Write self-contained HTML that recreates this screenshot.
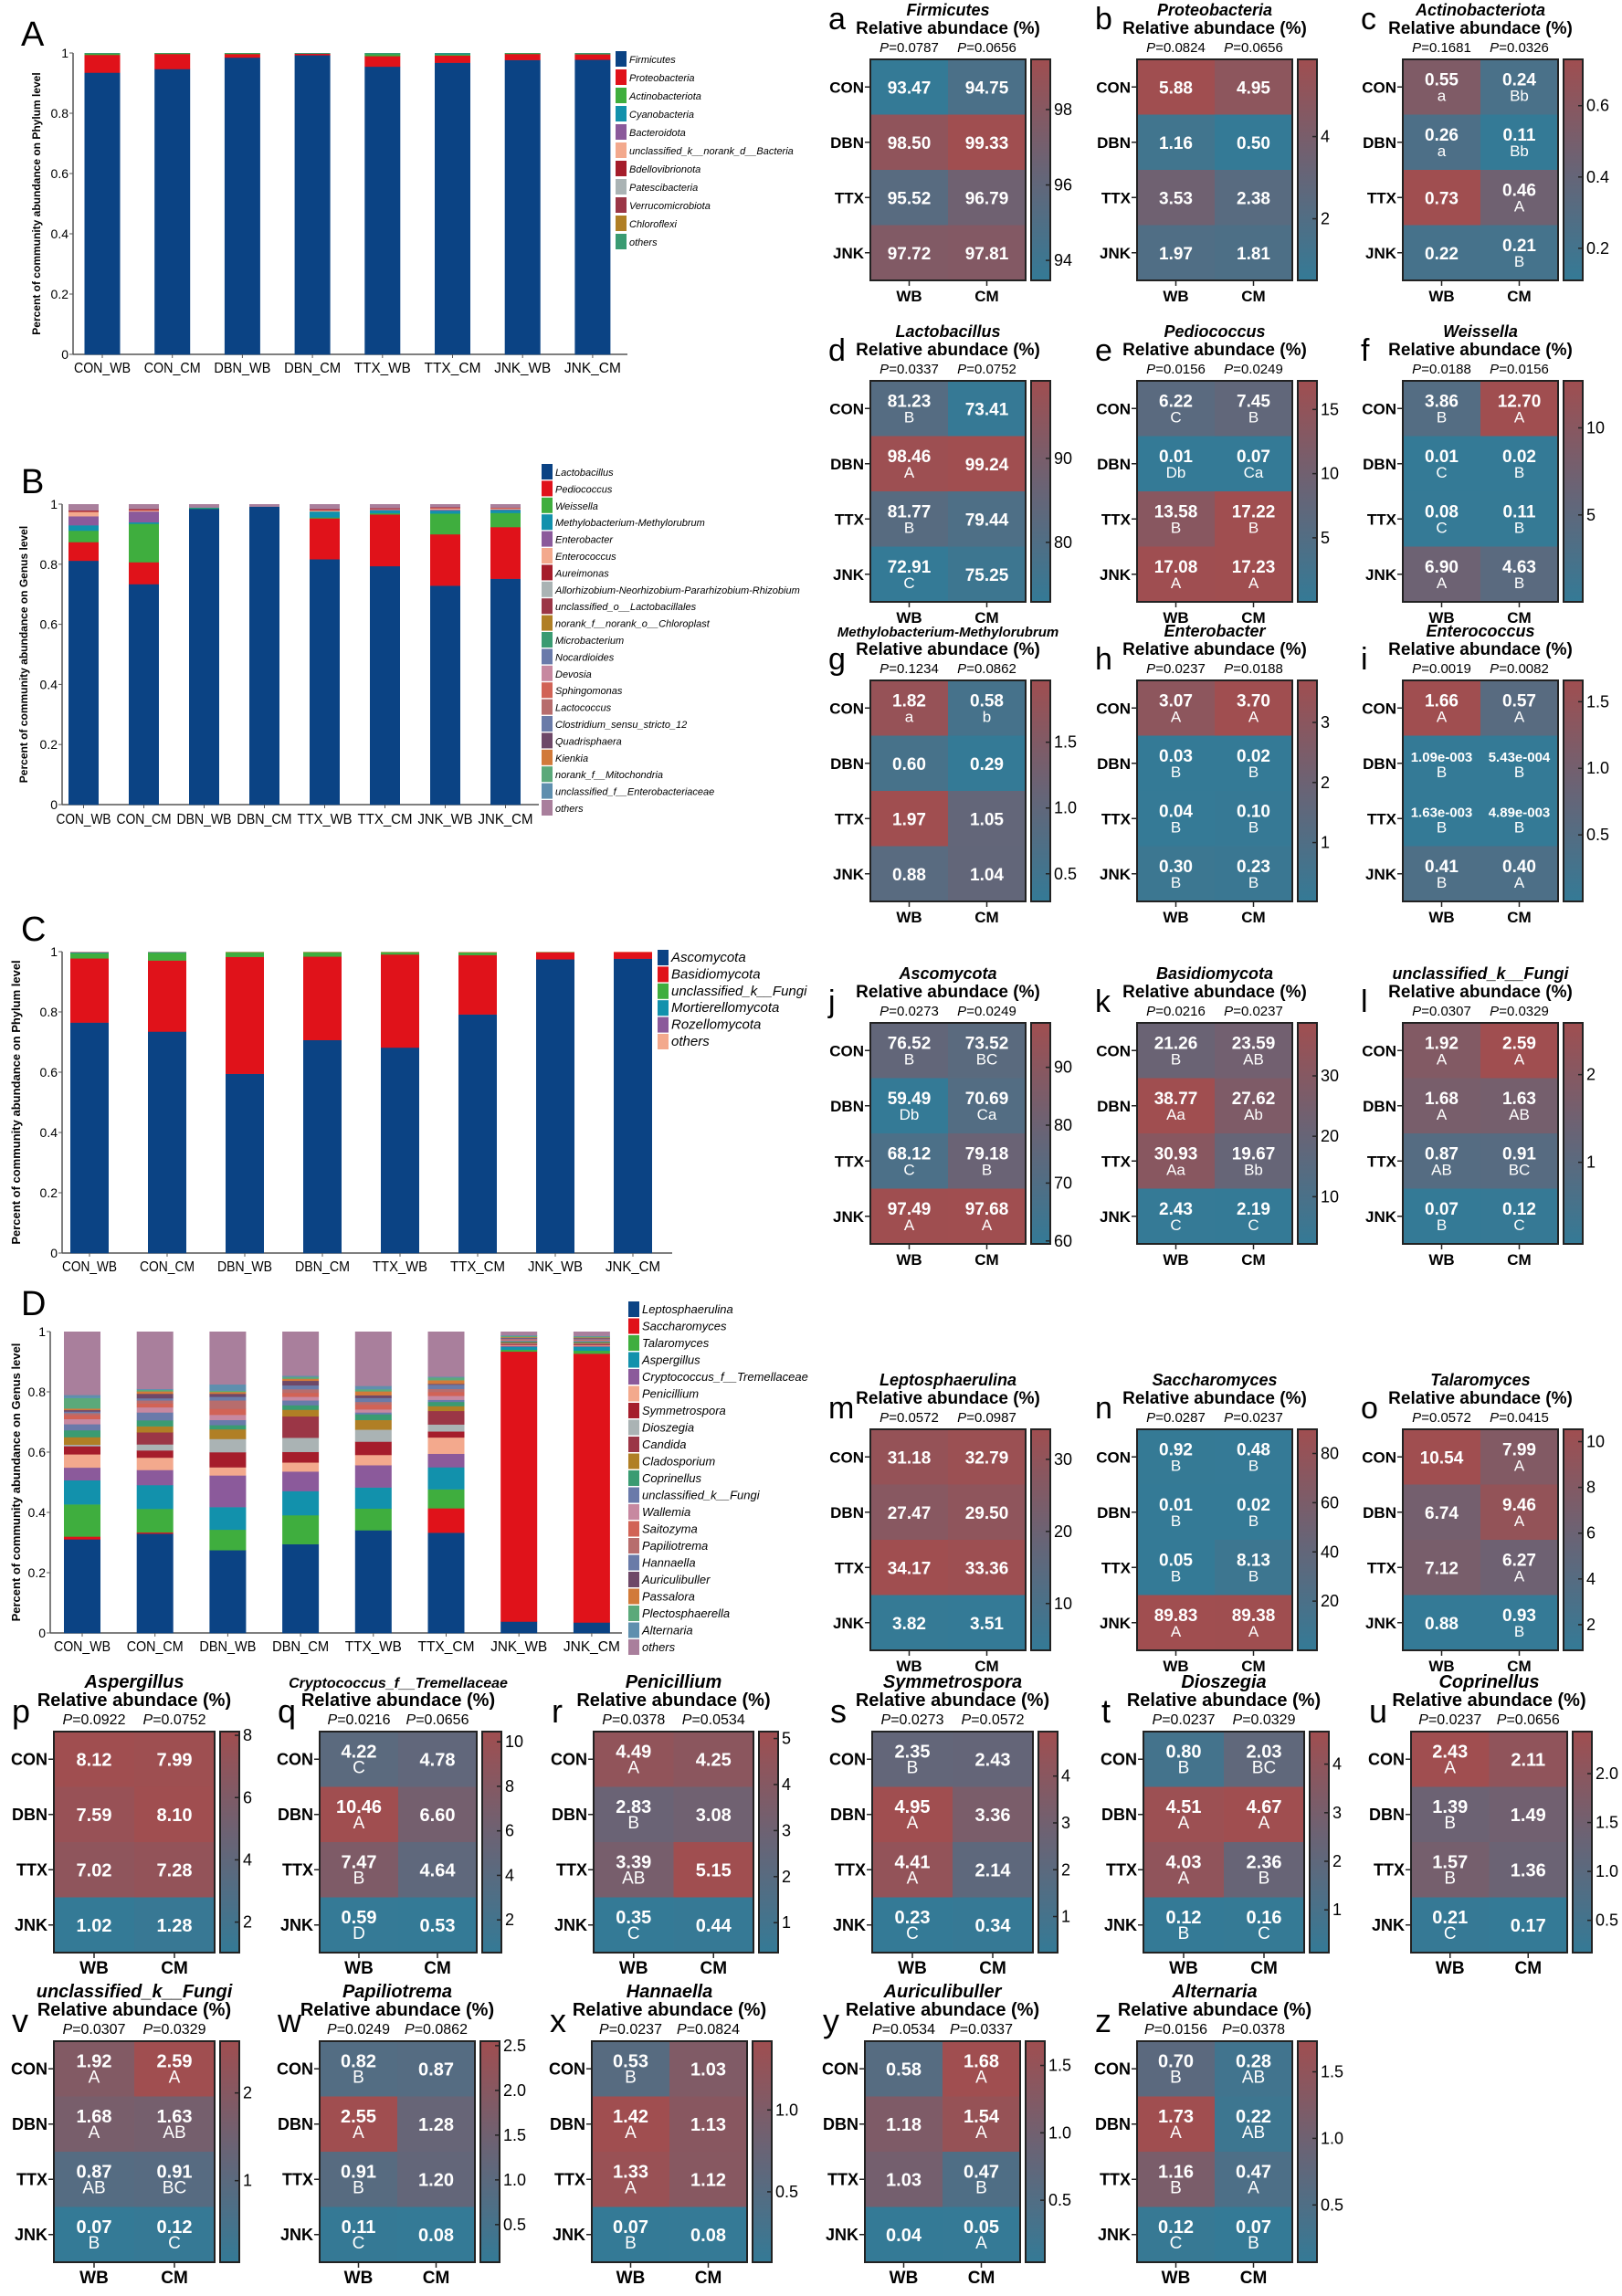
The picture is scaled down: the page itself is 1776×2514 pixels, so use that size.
<!DOCTYPE html>
<html><head><meta charset="utf-8">
<style>
html,body{margin:0;padding:0;background:#fff;}
svg{display:block;}
text{font-family:"Liberation Sans",Arial,sans-serif;}
.n{font-family:"Liberation Sans Narrow","Liberation Sans",Arial,sans-serif;}
</style></head>
<body>
<svg id="s" xmlns="http://www.w3.org/2000/svg" width="1776" height="2514" viewBox="0 0 1776 2514"></svg>
<script>
var out=[];
function T(x,y,s,str,o){o=o||{};out.push('<text x="'+x+'" y="'+y+'" font-size="'+s+'"'+(o.a?' text-anchor="'+o.a+'"':'')+(o.w?' font-weight="bold"':'')+(o.i?' font-style="italic"':'')+(o.f?' fill="'+o.f+'"':'')+(o.c?' class="'+o.c+'"':'')+(o.tl?' textLength="'+o.tl+'" lengthAdjust="spacingAndGlyphs"':'')+(o.t?' transform="'+o.t+'"':'')+'>'+str+'</text>');}
function R(x,y,w,h,f,st){out.push('<rect x="'+x+'" y="'+y+'" width="'+w+'" height="'+h+'" fill="'+f+'"'+(st?' stroke="'+st+'" stroke-width="2"':'')+'/>');}
function L(x1,y1,x2,y2,c,w){out.push('<line x1="'+x1+'" y1="'+y1+'" x2="'+x2+'" y2="'+y2+'" stroke="'+(c||'#222')+'" stroke-width="'+(w||1.5)+'"/>');}
var B=[52,122,150],M=[104,100,118],RD=[160,78,80];
function col(t){t=Math.max(0,Math.min(1,t));var a,b,u;if(t<.5){a=B;b=M;u=t*2}else{a=M;b=RD;u=(t-.5)*2}
return 'rgb('+a.map(function(v,i){return Math.round(v+(b[i]-v)*u)}).join(',')+')';}
out.push('<defs><linearGradient id="g" x1="0" y1="1" x2="0" y2="0"><stop offset="0" stop-color="rgb(52,122,150)"/><stop offset="0.5" stop-color="rgb(104,100,118)"/><stop offset="1" stop-color="rgb(160,78,80)"/></linearGradient></defs>');

function hm(p){
 var x=p.x,y=p.y,w=p.w||170,h=p.h||242,cw=w/2,ch=h/4,vals=p.v,lt=p.l||[['',''],['',''],['',''],['','']];
 var fl=[].concat.apply([],vals),mn=Math.min.apply(0,fl),mx=Math.max.apply(0,fl);
 var nar=p.nar,cls=nar?'n':'';
 var cx=x+w/2;
 T(x-46,y-(p.ly||22),nar?36:34,p.letter,{c:cls});
 T(cx,y-48,p.ts||18,p.title,{a:'middle',w:1,i:1,c:cls});
 T(cx,y-28,nar?20:19,'Relative abundace (%)',{a:'middle',w:1,c:cls});
 T(x+cw/2,y-8,nar?16:15,'<tspan font-style="italic">P</tspan>='+p.p[0],{a:'middle',c:cls});
 T(x+cw*1.5,y-8,nar?16:15,'<tspan font-style="italic">P</tspan>='+p.p[1],{a:'middle',c:cls});
 var rows=['CON','DBN','TTX','JNK'];
 for(var r=0;r<4;r++){for(var c=0;c<2;c++){var v=vals[r][c];R(x+c*cw,y+r*ch,cw+0.5,ch+0.5,col((v-mn)/(mx-mn)));
  var s=p.str&&p.str[r][c]?p.str[r][c]:v.toFixed(2);var has=lt[r][c]!=='';var vy=y+r*ch+ch/2+(has?-2:7);
  T(x+c*cw+cw/2,vy,s.length>5?15:(nar?20:19),s,{a:'middle',w:1,f:'#fff',c:cls});
  if(has)T(x+c*cw+cw/2,vy+17,nar?19:17,lt[r][c],{a:'middle',f:'#fff',c:cls});}
  T(x-7,y+r*ch+ch/2+6,nar?18:17,rows[r],{a:'end',w:1,c:cls});L(x-6,y+r*ch+ch/2,x,y+r*ch+ch/2);}
 out.push('<rect x="'+x+'" y="'+y+'" width="'+w+'" height="'+h+'" fill="none" stroke="#222" stroke-width="2"/>');
 L(x+cw/2,y+h,x+cw/2,y+h+6);L(x+cw*1.5,y+h,x+cw*1.5,y+h+6);
 T(x+cw/2,y+h+23,nar?19:17,'WB',{a:'middle',w:1,c:cls});T(x+cw*1.5,y+h+23,nar?19:17,'CM',{a:'middle',w:1,c:cls});
 var bx=x+w+6,bw=21;
 out.push('<rect x="'+bx+'" y="'+y+'" width="'+bw+'" height="'+h+'" fill="url(#g)" stroke="#222" stroke-width="2"/>');
 p.t.forEach(function(tv){var ty=y+h-(tv-mn)/(mx-mn)*h;L(bx+bw-5,ty,bx+bw,ty);T(bx+bw+4,ty+6,18,String(tv),{c:cls});});
}
var C1=953,C2=1245,C3=1536;
var R1=65,R2=417,R3=745,R4=1120,R5=1565;
hm({x:C1,y:R1,letter:'a',ly:33,title:'Firmicutes',p:['0.0787','0.0656'],v:[[93.47,94.75],[98.50,99.33],[95.52,96.79],[97.72,97.81]],t:[94,96,98]});
hm({x:C2,y:R1,letter:'b',ly:33,title:'Proteobacteria',p:['0.0824','0.0656'],v:[[5.88,4.95],[1.16,0.50],[3.53,2.38],[1.97,1.81]],t:[2,4]});
hm({x:C3,y:R1,letter:'c',ly:33,title:'Actinobacteriota',p:['0.1681','0.0326'],v:[[.55,.24],[.26,.11],[.73,.46],[.22,.21]],l:[['a','Bb'],['a','Bb'],['','A'],['','B']],t:[0.2,0.4,0.6]});
hm({x:C1,y:R2,letter:'d',title:'Lactobacillus',p:['0.0337','0.0752'],v:[[81.23,73.41],[98.46,99.24],[81.77,79.44],[72.91,75.25]],l:[['B',''],['A',''],['B',''],['C','']],t:[80,90]});
hm({x:C2,y:R2,letter:'e',title:'Pediococcus',p:['0.0156','0.0249'],v:[[6.22,7.45],[0.01,0.07],[13.58,17.22],[17.08,17.23]],l:[['C','B'],['Db','Ca'],['B','B'],['A','A']],t:[5,10,15]});
hm({x:C3,y:R2,letter:'f',title:'Weissella',p:['0.0188','0.0156'],v:[[3.86,12.70],[.01,.02],[.08,.11],[6.90,4.63]],l:[['B','A'],['C','B'],['C','B'],['A','B']],t:[5,10]});
hm({x:C1,y:R3,letter:'g',ly:12,title:'Methylobacterium-Methylorubrum',ts:15,p:['0.1234','0.0862'],v:[[1.82,.58],[.60,.29],[1.97,1.05],[.88,1.04]],l:[['a','b'],['',''],['',''],['','']],t:[0.5,'1.0',1.5]});
hm({x:C2,y:R3,letter:'h',ly:12,title:'Enterobacter',p:['0.0237','0.0188'],v:[[3.07,3.70],[.03,.02],[.04,.10],[.30,.23]],l:[['A','A'],['B','B'],['B','B'],['B','B']],t:[1,2,3]});
hm({x:C3,y:R3,letter:'i',ly:12,title:'Enterococcus',p:['0.0019','0.0082'],v:[[1.66,.57],[.00109,.000543],[.00163,.00489],[.41,.40]],str:[[0,0],['1.09e-003','5.43e-004'],['1.63e-003','4.89e-003'],[0,0]],l:[['A','A'],['B','B'],['B','B'],['B','A']],t:[0.5,'1.0',1.5]});
hm({x:C1,y:R4,letter:'j',ly:12,title:'Ascomycota',p:['0.0273','0.0249'],v:[[76.52,73.52],[59.49,70.69],[68.12,79.18],[97.49,97.68]],l:[['B','BC'],['Db','Ca'],['C','B'],['A','A']],t:[60,70,80,90]});
hm({x:C2,y:R4,letter:'k',ly:12,title:'Basidiomycota',p:['0.0216','0.0237'],v:[[21.26,23.59],[38.77,27.62],[30.93,19.67],[2.43,2.19]],l:[['B','AB'],['Aa','Ab'],['Aa','Bb'],['C','C']],t:[10,20,30]});
hm({x:C3,y:R4,letter:'l',ly:12,title:'unclassified_k__Fungi',p:['0.0307','0.0329'],v:[[1.92,2.59],[1.68,1.63],[.87,.91],[.07,.12]],l:[['A','A'],['A','AB'],['AB','BC'],['B','C']],t:[1,2]});
hm({x:C1,y:R5,letter:'m',ly:12,title:'Leptosphaerulina',p:['0.0572','0.0987'],v:[[31.18,32.79],[27.47,29.50],[34.17,33.36],[3.82,3.51]],t:[10,20,30]});
hm({x:C2,y:R5,letter:'n',ly:12,title:'Saccharomyces',p:['0.0287','0.0237'],v:[[.92,.48],[.01,.02],[.05,8.13],[89.83,89.38]],l:[['B','B'],['B','B'],['B','B'],['A','A']],t:[20,40,60,80]});
hm({x:C3,y:R5,letter:'o',ly:12,title:'Talaromyces',p:['0.0572','0.0415'],v:[[10.54,7.99],[6.74,9.46],[7.12,6.27],[.88,.93]],l:[['','A'],['','A'],['','A'],['','B']],t:[2,4,6,8,10]});
var R6=1896,R7=2235,W6=176;
hm({x:59,y:R6,w:W6,nar:1,letter:'p',ly:10,title:'Aspergillus',ts:20,p:['0.0922','0.0752'],v:[[8.12,7.99],[7.59,8.10],[7.02,7.28],[1.02,1.28]],t:[2,4,6,8]});
hm({x:350,y:R6,w:172,nar:1,letter:'q',ly:10,title:'Cryptococcus_f__Tremellaceae',ts:16,p:['0.0216','0.0656'],v:[[4.22,4.78],[10.46,6.60],[7.47,4.64],[.59,.53]],l:[['C',''],['A',''],['B',''],['D','']],t:[2,4,6,8,10]});
hm({x:650,y:R6,w:175,nar:1,letter:'r',ly:10,title:'Penicillium',ts:20,p:['0.0378','0.0534'],v:[[4.49,4.25],[2.83,3.08],[3.39,5.15],[.35,.44]],l:[['A',''],['B',''],['AB',''],['C','']],t:[1,2,3,4,5]});
hm({x:955,y:R6,w:176,nar:1,letter:'s',ly:10,title:'Symmetrospora',ts:20,p:['0.0273','0.0572'],v:[[2.35,2.43],[4.95,3.36],[4.41,2.14],[.23,.34]],l:[['B',''],['A',''],['A',''],['C','']],t:[1,2,3,4]});
hm({x:1252,y:R6,w:176,nar:1,letter:'t',ly:10,title:'Dioszegia',ts:20,p:['0.0237','0.0329'],v:[[.80,2.03],[4.51,4.67],[4.03,2.36],[.12,.16]],l:[['B','BC'],['A','A'],['A','B'],['B','C']],t:[1,2,3,4]});
hm({x:1545,y:R6,w:171,nar:1,letter:'u',ly:10,title:'Coprinellus',ts:20,p:['0.0237','0.0656'],v:[[2.43,2.11],[1.39,1.49],[1.57,1.36],[.21,.17]],l:[['A',''],['B',''],['B',''],['C','']],t:[0.5,'1.0',1.5,'2.0']});
hm({x:59,y:R7,w:W6,nar:1,letter:'v',ly:10,title:'unclassified_k__Fungi',ts:20,p:['0.0307','0.0329'],v:[[1.92,2.59],[1.68,1.63],[.87,.91],[.07,.12]],l:[['A','A'],['A','AB'],['AB','BC'],['B','C']],t:[1,2]});
hm({x:350,y:R7,w:170,nar:1,letter:'w',ly:10,title:'Papiliotrema',ts:20,p:['0.0249','0.0862'],v:[[.82,.87],[2.55,1.28],[.91,1.20],[.11,.08]],l:[['B',''],['A',''],['B',''],['C','']],t:[0.5,'1.0',1.5,'2.0',2.5]});
hm({x:648,y:R7,w:170,nar:1,letter:'x',ly:10,title:'Hannaella',ts:20,p:['0.0237','0.0824'],v:[[.53,1.03],[1.42,1.13],[1.33,1.12],[.07,.08]],l:[['B',''],['A',''],['A',''],['B','']],t:[0.5,'1.0']});
hm({x:947,y:R7,w:170,nar:1,letter:'y',ly:10,title:'Auriculibuller',ts:20,p:['0.0534','0.0337'],v:[[.58,1.68],[1.18,1.54],[1.03,.47],[.04,.05]],l:[['','A'],['','A'],['','B'],['','A']],t:[0.5,'1.0',1.5]});
hm({x:1245,y:R7,w:170,nar:1,letter:'z',ly:10,title:'Alternaria',ts:20,p:['0.0156','0.0378'],v:[[.70,.28],[1.73,.22],[1.16,.47],[.12,.07]],l:[['B','AB'],['A','AB'],['B','A'],['C','B']],t:[0.5,'1.0',1.5]});

var CL=['#0b4384','#e0121a','#3fae3e','#1291ac','#8b5a9b','#f3a98d','#a51d2b','#aab3b4','#9b3646','#b07f25','#3a9b72','#6a7aaa','#c788a0','#d16356','#b76d6d','#6a7ba8','#6e4868','#d17a3a','#5ba97a','#5f8fae','#a97f9c'];
var XL=['CON_WB','CON_CM','DBN_WB','DBN_CM','TTX_WB','TTX_CM','JNK_WB','JNK_CM'];
function bar(o){
 var yt=o.yt,yb=o.yb,H=yb-yt;
 T(23,o.ly,38,o.letter,{c:'n'});
 T(0,0,o.yts||14,o.ytitle,{a:'middle',w:1,t:'translate('+o.ytx+','+((yt+yb)/2)+') rotate(-90)'});
 L(o.ax,yt,o.ax,yb,'#555',1.5);L(o.ax,yb,o.xe,yb,'#555',1.5);
 [0,.2,.4,.6,.8,1].forEach(function(v){var y=yb-v*H;L(o.ax-4,y,o.ax,y,'#555',1);T(o.ax-5,y+5,14,v===0?'0':v===1?'1':String(v),{a:'end',c:'n'});});
 o.d.forEach(function(segs,i){var cx=o.c0+o.sp*i,acc=0;var sum=segs.reduce(function(a,b){return a+b},0);
  segs.concat([Math.max(0,1-sum)]).forEach(function(v,k){if(v<=0)return;var ci=k<segs.length?k:o.oth;R(cx-o.bw/2,yb-(acc+v)*H,o.bw,v*H+0.3,CL[ci]);acc+=v;});
  L(cx,yb,cx,yb+4,'#555',1);T(cx-o.xw/2,yb+o.lo,o.xs||16,XL[i],{c:'n',tl:o.xw});});
 o.leg.forEach(function(n,k){var y=o.ly0+o.lsp*k;var ci=k<o.leg.length-1?k:o.oth;R(o.lx,y-8,12,17,CL[ci]);T(o.lx+15,y+5,o.lfs,n,{i:1,c:'n'});});
}
// A
bar({letter:'A',ly:50,yt:58,yb:388,ax:80,xe:687,c0:112,sp:76.7,bw:39,lo:20,xw:62,ytitle:'Percent of community abundance on Phylum level',ytx:44,yts:12,
 d:[[.935,.059,.004],[.947,.05,.002],[.985,.012,.002],[.993,.005],[.955,.035,.007,.001],[.968,.024,.004,.003],[.977,.02,.002],[.978,.018,.001]],
 oth:10,lx:674,ly0:64,lsp:20,lfs:11,
 leg:['Firmicutes','Proteobacteria','Actinobacteriota','Cyanobacteria','Bacteroidota','unclassified_k__norank_d__Bacteria','Bdellovibrionota','Patescibacteria','Verrucomicrobiota','Chloroflexi','others']});
// B
bar({letter:'B',ly:540,yt:552,yb:881,ax:68,xe:590,c0:91.5,sp:66,bw:33,lo:21,xw:60,ytitle:'Percent of community abundance on Genus level',ytx:30,yts:12,
 d:[[.812,.062,.038,.018,.03,.015,.004],[.734,.073,.128,.005,.036,.004,.004],[.985,0,.002,.002],[.992],[.817,.136,.003,.02,0,.004,.004],[.794,.172,.004,.01,.002,.002,.003],[.729,.171,.069,.01,.003,.005,.003],[.752,.172,.047,.01,.002,.004,.002]],
 oth:20,lx:593,ly0:516,lsp:18.4,lfs:11,
 leg:['Lactobacillus','Pediococcus','Weissella','Methylobacterium-Methylorubrum','Enterobacter','Enterococcus','Aureimonas','Allorhizobium-Neorhizobium-Pararhizobium-Rhizobium','unclassified_o__Lactobacillales','norank_f__norank_o__Chloroplast','Microbacterium','Nocardioides','Devosia','Sphingomonas','Lactococcus','Clostridium_sensu_stricto_12','Quadrisphaera','Kienkia','norank_f__Mitochondria','unclassified_f__Enterobacteriaceae','others']});
// C
bar({letter:'C',ly:1030,yt:1042,yb:1372,ax:68,xe:736,c0:98,sp:85,bw:42,lo:20,xw:60,ytitle:'Percent of community abundance on Phylum level',ytx:22,yts:13,
 d:[[.765,.213,.018,.002,.001],[.735,.236,.026,.002],[.595,.388,.016],[.707,.277,.015],[.682,.309,.008],[.792,.197,.009],[.975,.023,.001],[.977,.022]],
 oth:5,lx:720,ly0:1048,lsp:18.4,lfs:15,
 leg:['Ascomycota','Basidiomycota','unclassified_k__Fungi','Mortierellomycota','Rozellomycota','others']});
// D
bar({letter:'D',ly:1440,yt:1458,yb:1788,ax:55,xe:681,c0:90,sp:79.7,bw:40,lo:20,xw:62,ytitle:'Percent of community abundance on Genus level',ytx:22,yts:13,
 d:[[.311,.009,.107,.08,.042,.044,.027,.005,0,.025,.023,.02,.017,.013,.007,.005,.005,.005,.035,.01],
    [.33,.004,.078,.079,.05,.041,.024,.02,.04,.02,.02,.026,.017,.013,.01,.007,.015,.008,.005,.003],
    [.275,0,.068,.075,.105,.027,.05,.044,0,.032,.014,.017,.017,.02,.028,.012,.01,.006,.004,.021],
    [.295,0,.096,.08,.065,.03,.035,.047,.071,.022,.015,.016,.012,.013,.012,.013,.015,.007,.006,.004],
    [.341,0,.072,.07,.074,.034,.044,.04,0,.032,.019,.006,.01,.016,.009,.013,.009,.013,.007,.011],
    [.333,.081,.063,.073,.045,.054,.02,.023,.045,.016,.014,.007,.013,.013,.01,.014,.003,.012,.009,.003],
    [.038,.896,.006,.01,.003,.003,.003,.002,.002,.002,.003,.002,.002,.002,.002,.002,.002,.002,.004,.002],
    [.035,.892,.01,.013,.002,.003,.003,.002,.002,.002,.003,.002,.002,.002,.002,.002,.002,.002,.003,.002]],
 oth:20,lx:688,ly0:1433,lsp:18.5,lfs:13,
 leg:['Leptosphaerulina','Saccharomyces','Talaromyces','Aspergillus','Cryptococcus_f__Tremellaceae','Penicillium','Symmetrospora','Dioszegia','Candida','Cladosporium','Coprinellus','unclassified_k__Fungi','Wallemia','Saitozyma','Papiliotrema','Hannaella','Auriculibuller','Passalora','Plectosphaerella','Alternaria','others']});
document.getElementById('s').innerHTML=out.join('');
</script>
</body></html>
